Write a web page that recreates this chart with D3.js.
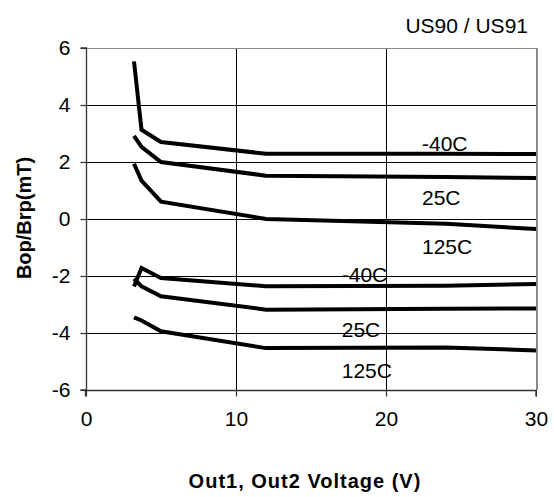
<!DOCTYPE html>
<html>
<head>
<meta charset="utf-8">
<script src="https://cdn.jsdelivr.net/npm/d3@7"></script>
<style>
html,body{margin:0;padding:0;background:#fff;}
svg{display:block;}
text{font-family:"Liberation Sans",Arial,Helvetica,sans-serif;fill:#000;}
</style>
</head>
<body>
<svg id="chart" width="554" height="497"></svg>
<script>
// ---- data ----
const voltage = [3.2, 3.7, 5, 12, 24, 30];
const bopMinus40 = [5.53, 3.13, 2.70, 2.29, 2.29, 2.28];
const bop25 = [2.92, 2.53, 2.00, 1.52, 1.47, 1.44];
const bop125 = [1.94, 1.35, 0.61, 0.00, -0.17, -0.35];
const brpMinus40 = [-2.37, -1.72, -2.07, -2.36, -2.34, -2.28];
const brp25 = [-2.10, -2.36, -2.71, -3.18, -3.15, -3.14];
const brp125 = [-3.45, -3.56, -3.94, -4.53, -4.51, -4.61];
const seriesList = [bopMinus40, bop25, bop125, brpMinus40, brp25, brp125];

const xTicks = [0, 10, 20, 30];
const yTicks = [-6, -4, -2, 0, 2, 4, 6];

const labelText = ["-40C", "25C", "125C", "-40C", "25C", "125C"];
const labelV = [22.4, 22.4, 22.4, 17.05, 17.05, 17.05];
const labelB = [2.37, 0.50, -1.22, -2.20, -4.14, -5.58];

const title = "US90 / US91";
const xTitle = "Out1, Out2 Voltage (V)";
const yTitle = "Bop/Brp(mT)";

// ---- layout ----
const L = 86, R = 536, T = 48, B = 390;
const svg = d3.select("#chart");
const x = d3.scaleLinear().domain([0, 30]).range([L, R]);
const y = d3.scaleLinear().domain([-6, 6]).range([B, T]);

// gridlines
const grid = svg.append("g").attr("shape-rendering", "crispEdges");
grid.selectAll("line.h").data(yTicks.filter(d => d > -6 && d < 6)).enter().append("line")
  .attr("x1", L).attr("x2", R)
  .attr("y1", d => Math.round(y(d)) + 0.5).attr("y2", d => Math.round(y(d)) + 0.5)
  .attr("stroke", "#000").attr("stroke-width", 1);
grid.selectAll("line.v").data(xTicks.filter(d => d > 0 && d < 30)).enter().append("line")
  .attr("y1", T).attr("y2", B)
  .attr("x1", d => Math.round(x(d)) + 0.5).attr("x2", d => Math.round(x(d)) + 0.5)
  .attr("stroke", "#000").attr("stroke-width", 1);

// frame top/right (gray)
svg.append("line").attr("x1", L).attr("x2", R + 1).attr("y1", T + 0.5).attr("y2", T + 0.5)
  .attr("stroke", "#888").attr("stroke-width", 1.5).attr("shape-rendering", "crispEdges");
svg.append("line").attr("x1", R + 0.5).attr("x2", R + 0.5).attr("y1", T).attr("y2", B)
  .attr("stroke", "#888").attr("stroke-width", 2).attr("shape-rendering", "crispEdges");

// axes
const fmt = d => String(d);
const xAxis = d3.axisBottom(x).tickValues(xTicks).tickSize(6).tickPadding(15).tickFormat(fmt);
const yAxis = d3.axisLeft(y).tickValues(yTicks).tickSize(6).tickPadding(10).tickFormat(fmt);
const gx = svg.append("g").attr("transform", `translate(0,${B + 0.5})`).call(xAxis);
const gy = svg.append("g").attr("transform", `translate(${L + 0.5},0)`).call(yAxis);
[gx, gy].forEach(g => {
  g.select(".domain").attr("stroke", "#333").attr("stroke-width", 1.3);
  g.selectAll(".tick line").attr("stroke", "#333").attr("stroke-width", 1.2);
  g.selectAll("text").attr("font-size", 21).attr("font-family", '"Liberation Sans",Arial,sans-serif').attr("fill", "#000");
});
gy.select(".domain").attr("d", `M-6,${y(6)}H0V${y(-6)}H-6`);
gx.select(".domain").attr("d", `M${x(0) - 0.5},6V0H${x(30)}V6`);

// series lines
const line = d3.line().x((d, i) => x(voltage[i])).y(d => y(d));
svg.append("g").selectAll("path").data(seriesList).enter().append("path")
  .attr("d", d => line(d))
  .attr("fill", "none").attr("stroke", "#000").attr("stroke-width", 4)
  .attr("stroke-linejoin", "miter").attr("stroke-linecap", "butt");

// labels
svg.append("g").selectAll("text").data(labelText).enter().append("text")
  .attr("x", (d, i) => x(labelV[i])).attr("y", (d, i) => y(labelB[i]))
  .attr("font-size", 21).text(d => d);

// title
svg.append("text").attr("x", 528).attr("y", 33).attr("text-anchor", "end")
  .attr("font-size", 21).text(title);

// axis titles
svg.append("text").attr("x", 305).attr("y", 488).attr("text-anchor", "middle")
  .attr("font-size", 20).attr("font-weight", "bold").attr("letter-spacing", 1)
  .text(xTitle);
svg.append("text").attr("transform", "translate(31,218) rotate(-90)").attr("text-anchor", "middle")
  .attr("font-size", 20).attr("font-weight", "bold").text(yTitle);
</script>
</body>
</html>
